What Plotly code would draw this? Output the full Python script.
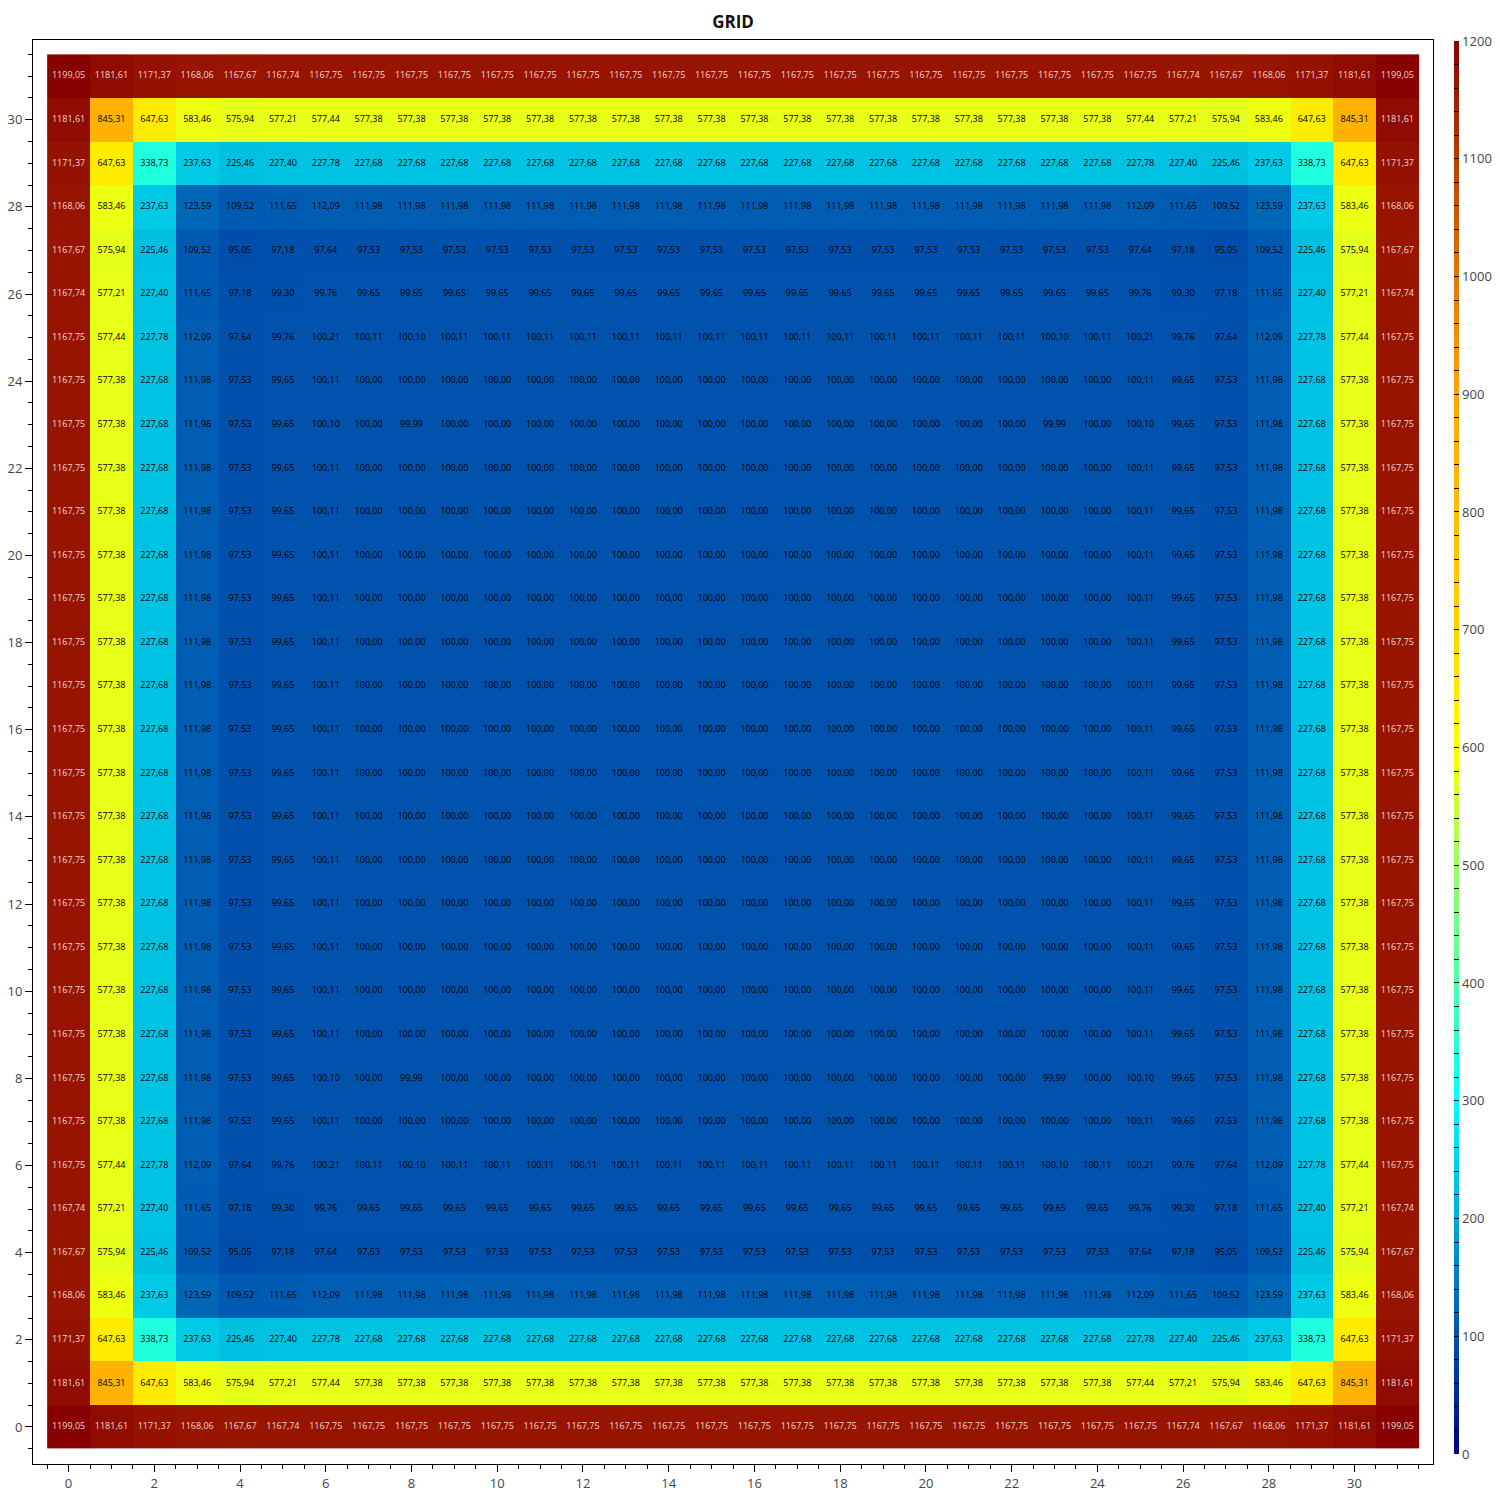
import plotly.graph_objects as go

# ---- data: distinct rows of the 32x32 grid ----
ROW_EDGE = [1199.05, 1181.61, 1171.37, 1168.06, 1167.67, 1167.74, 1167.75, 1167.75,
            1167.75, 1167.75, 1167.75, 1167.75, 1167.75, 1167.75, 1167.75, 1167.75,
            1167.75, 1167.75, 1167.75, 1167.75, 1167.75, 1167.75, 1167.75, 1167.75,
            1167.75, 1167.75, 1167.74, 1167.67, 1168.06, 1171.37, 1181.61, 1199.05]
ROW_1 = [1181.61, 845.31, 647.63, 583.46, 575.94, 577.21, 577.44, 577.38,
         577.38, 577.38, 577.38, 577.38, 577.38, 577.38, 577.38, 577.38,
         577.38, 577.38, 577.38, 577.38, 577.38, 577.38, 577.38, 577.38,
         577.38, 577.44, 577.21, 575.94, 583.46, 647.63, 845.31, 1181.61]
ROW_2 = [1171.37, 647.63, 338.73, 237.63, 225.46, 227.40, 227.78, 227.68,
         227.68, 227.68, 227.68, 227.68, 227.68, 227.68, 227.68, 227.68,
         227.68, 227.68, 227.68, 227.68, 227.68, 227.68, 227.68, 227.68,
         227.68, 227.78, 227.40, 225.46, 237.63, 338.73, 647.63, 1171.37]
ROW_3 = [1168.06, 583.46, 237.63, 123.59, 109.52, 111.65, 112.09, 111.98,
         111.98, 111.98, 111.98, 111.98, 111.98, 111.98, 111.98, 111.98,
         111.98, 111.98, 111.98, 111.98, 111.98, 111.98, 111.98, 111.98,
         111.98, 112.09, 111.65, 109.52, 123.59, 237.63, 583.46, 1168.06]
ROW_4 = [1167.67, 575.94, 225.46, 109.52, 95.05, 97.18, 97.64, 97.53,
         97.53, 97.53, 97.53, 97.53, 97.53, 97.53, 97.53, 97.53,
         97.53, 97.53, 97.53, 97.53, 97.53, 97.53, 97.53, 97.53,
         97.53, 97.64, 97.18, 95.05, 109.52, 225.46, 575.94, 1167.67]
ROW_5 = [1167.74, 577.21, 227.40, 111.65, 97.18, 99.30, 99.76, 99.65,
         99.65, 99.65, 99.65, 99.65, 99.65, 99.65, 99.65, 99.65,
         99.65, 99.65, 99.65, 99.65, 99.65, 99.65, 99.65, 99.65,
         99.65, 99.76, 99.30, 97.18, 111.65, 227.40, 577.21, 1167.74]
ROW_6 = [1167.75, 577.44, 227.78, 112.09, 97.64, 99.76, 100.21, 100.11,
         100.10, 100.11, 100.11, 100.11, 100.11, 100.11, 100.11, 100.11,
         100.11, 100.11, 100.11, 100.11, 100.11, 100.11, 100.11, 100.10,
         100.11, 100.21, 99.76, 97.64, 112.09, 227.78, 577.44, 1167.75]
ROW_IN = [1167.75, 577.38, 227.68, 111.98, 97.53, 99.65, 100.11, 100.00,
          100.00, 100.00, 100.00, 100.00, 100.00, 100.00, 100.00, 100.00,
          100.00, 100.00, 100.00, 100.00, 100.00, 100.00, 100.00, 100.00,
          100.00, 100.11, 99.65, 97.53, 111.98, 227.68, 577.38, 1167.75]
ROW_8 = [1167.75, 577.38, 227.68, 111.98, 97.53, 99.65, 100.10, 100.00,
         99.99, 100.00, 100.00, 100.00, 100.00, 100.00, 100.00, 100.00,
         100.00, 100.00, 100.00, 100.00, 100.00, 100.00, 100.00, 99.99,
         100.00, 100.10, 99.65, 97.53, 111.98, 227.68, 577.38, 1167.75]

# rows from y=0 (bottom) to y=31 (top)
Z = [ROW_EDGE, ROW_1, ROW_2, ROW_3, ROW_4, ROW_5, ROW_6, ROW_IN, ROW_8,
     ROW_IN, ROW_IN, ROW_IN, ROW_IN, ROW_IN, ROW_IN, ROW_IN,
     ROW_IN, ROW_IN, ROW_IN, ROW_IN, ROW_IN, ROW_IN, ROW_IN,
     ROW_8, ROW_IN, ROW_6, ROW_5, ROW_4, ROW_3, ROW_2, ROW_1, ROW_EDGE]

X_IDX = list(range(32))
Y_IDX = list(range(32))

CB_TICKS = list(range(0, 1201, 20))
CB_LABELS = [str(v) if v % 100 == 0 else "" for v in CB_TICKS]

COLORSCALE = [
    [0 / 1200, "rgb(0,0,128)"],
    [100 / 1200, "rgb(0,82,173)"],
    [200 / 1200, "rgb(0,170,215)"],
    [300 / 1200, "rgb(0,255,255)"],
    [400 / 1200, "rgb(80,255,170)"],
    [500 / 1200, "rgb(153,255,102)"],
    [600 / 1200, "rgb(255,255,0)"],
    [700 / 1200, "rgb(255,212,0)"],
    [800 / 1200, "rgb(255,190,0)"],
    [900 / 1200, "rgb(255,165,0)"],
    [1000 / 1200, "rgb(225,120,0)"],
    [1100 / 1200, "rgb(184,64,0)"],
    [1200 / 1200, "rgb(136,0,0)"],
]

FONT = "Open Sans, Noto Sans, sans-serif"

# page body has an 8px margin, so the figure is sized/positioned to compensate
W = H = 1484

fig = go.Figure()
fig.add_trace(go.Heatmap(
    z=Z, x=X_IDX, y=Y_IDX,
    colorscale=COLORSCALE, zmin=0, zmax=1200,
    hoverinfo="skip",
    colorbar=dict(
        thickness=5, outlinewidth=0,
        x=1.015, xanchor="left", xpad=0,
        y=0.9993, yanchor="top", ypad=0,
        len=0.9923, lenmode="fraction",
        tickvals=CB_TICKS, ticktext=CB_LABELS,
        ticks="inside", ticklen=5, tickcolor="black", tickwidth=1,
        tickfont=dict(family=FONT, size=13, color="#444"),
    ),
))

tx, ty, tt, tc = [], [], [], []
for j, row in enumerate(Z):
    for i, v in enumerate(row):
        tx.append(X_IDX[i])
        ty.append(Y_IDX[j])
        tt.append(f"{v:.2f}".replace(".", ","))
        tc.append("rgba(255,235,235,0.9)" if v > 1000 else "black")

fig.add_trace(go.Scatter(
    x=tx, y=ty, text=tt, mode="text",
    textposition="middle center",
    textfont=dict(family=FONT, size=9, color=tc),
    hoverinfo="skip", showlegend=False,
))

axis_common = dict(
    showgrid=False, zeroline=False, automargin=False,
    showline=True, linecolor="black", linewidth=1, mirror=True,
    ticks="outside", ticklen=7, tickcolor="black", tickwidth=1,
    tick0=0, dtick=2,
    tickfont=dict(family=FONT, size=13, color="#444"),
    minor=dict(dtick=0.5, tick0=0, ticks="outside", ticklen=4,
               tickcolor="black", showgrid=False),
)

fig.update_layout(
    width=W, height=H,
    margin=dict(l=25, r=59, t=32, b=28, autoexpand=False),
    paper_bgcolor="white", plot_bgcolor="white",
    title=dict(text="<b>GRID</b>", x=725 / W, xanchor="center",
               y=1 - 14 / H, yanchor="middle",
               font=dict(family=FONT, size=17, color="#111")),
    xaxis=dict(range=[-0.83, 31.83], **axis_common),
    yaxis=dict(range=[-0.85, 31.83], **axis_common),
    showlegend=False,
)

fig.write_html("out.html")
